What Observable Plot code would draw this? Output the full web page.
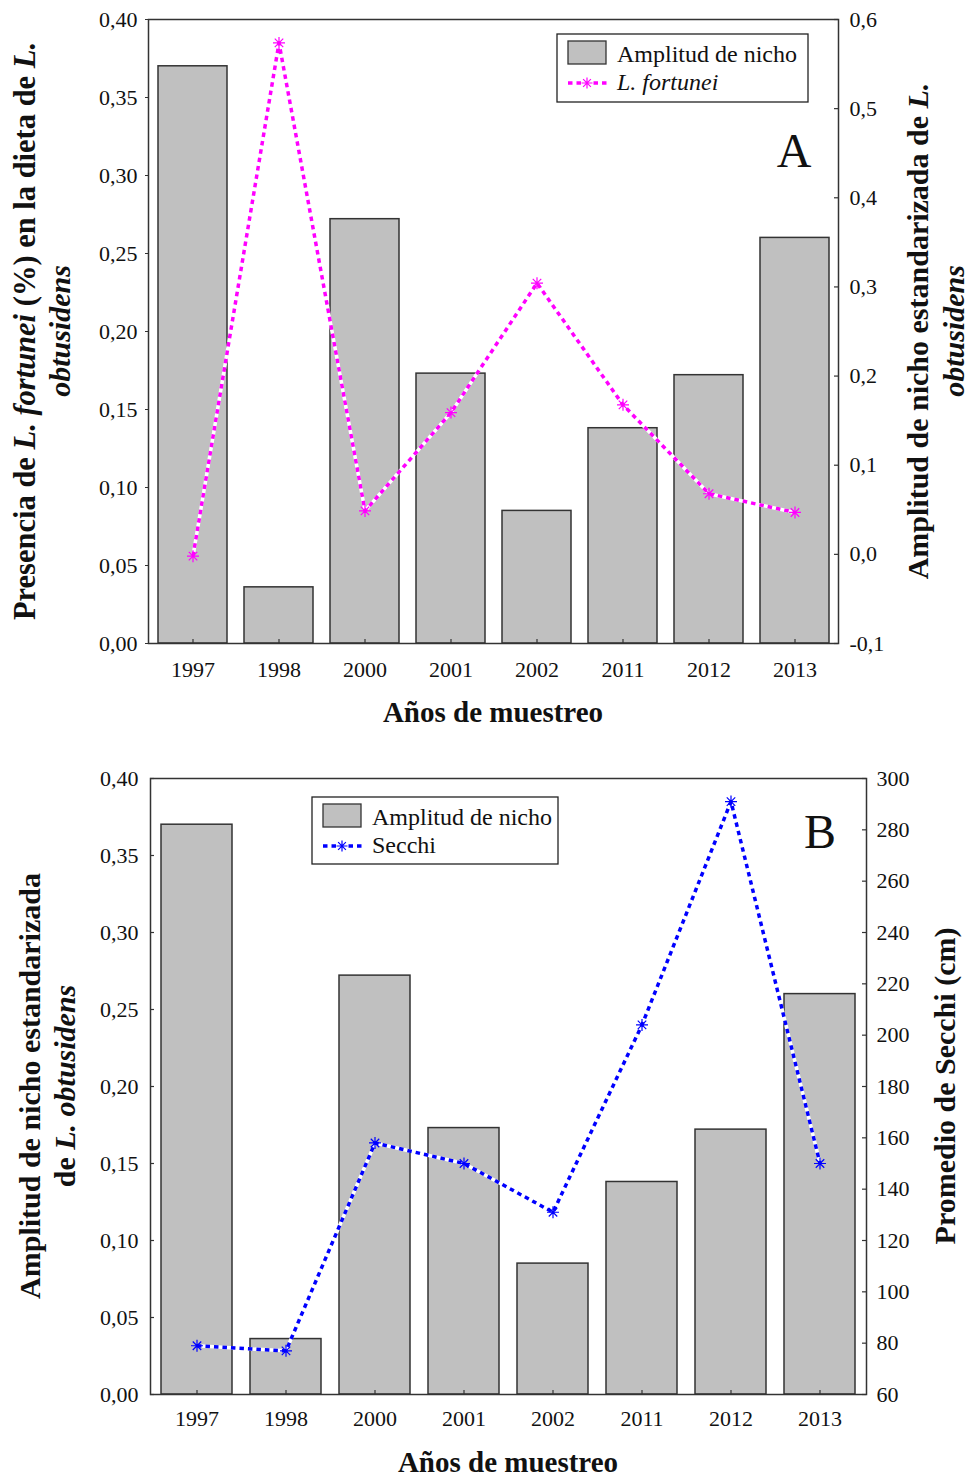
<!DOCTYPE html>
<html><head><meta charset="utf-8">
<script src="https://cdn.jsdelivr.net/npm/d3@7"></script>
<script src="https://cdn.jsdelivr.net/npm/@observablehq/plot@0.6"></script>
<style>
body{margin:0;background:#fff;}
#chart{width:970px;}
#chart svg{display:block;}
</style></head><body><div id="chart"></div>
<script>
// ---- data ----
const years = ["1997","1998","2000","2001","2002","2011","2012","2013"];
const amplitud = [0.370,0.036,0.272,0.173,0.085,0.138,0.172,0.260];
const fortunei = [0.056,0.385,0.085,0.148,0.231,0.153,0.096,0.084];
const secchi = [79,77,158,150,131,204,291,150];
const leftTicks = [0,0.05,0.10,0.15,0.20,0.25,0.30,0.35,0.40];
const rightTicksA = [-0.1,0,0.1,0.2,0.3,0.4,0.5,0.6];
const rightTicksB = [60,80,100,120,140,160,180,200,220,240,260,280,300];

const rows = years.map((y,i)=>({year:y, amp:amplitud[i], fort:fortunei[i], secchi:secchi[i]}));
const SERIF = "'Liberation Serif','Times New Roman',serif";
const fmtLeft = d => d.toFixed(2).replace(".", ",");
const aToLeft = v => (v + 0.1) * 0.4 / 0.7;
const aFromLeft = d => { const v = Math.round((d * 0.7 / 0.4 - 0.1) * 10) / 10; return v.toFixed(1).replace(".", ","); };
const bToLeft = v => (v - 60) / 240 * 0.4;
const bFromLeft = d => String(Math.round(60 + d / 0.4 * 240));

const asterisk = {draw(ctx, size){
  const r = Math.sqrt(size/Math.PI), d = r*Math.SQRT1_2;
  ctx.moveTo(-r,0);ctx.lineTo(r,0);ctx.moveTo(0,-r);ctx.lineTo(0,r);
  ctx.moveTo(-d,-d);ctx.lineTo(d,d);ctx.moveTo(-d,d);ctx.lineTo(d,-d);
}};

function panel(o){
  const plotW = o.width - o.marginLeft - o.marginRight;
  const plotH = o.height - o.marginTop - o.marginBottom;
  const marks = [
    Plot.barY(rows,{x:"year", y:"amp", fill:"#c0c0c0", stroke:"#333", strokeWidth:1.5}),
    Plot.line(rows,{x:"year", y:o.lineY, stroke:"white", strokeWidth:3.5}),
    Plot.line(rows,{x:"year", y:o.lineY, stroke:o.color, strokeWidth:3.5, strokeDasharray:"4.5,4", strokeLinecap:"butt"}),
    Plot.dot(rows,{x:"year", y:o.lineY, symbol:asterisk, r:6, stroke:o.color, fill:"none", strokeWidth:1.2}),
    Plot.axisX({tickSize:0, tickPadding:o.xPad, label:null, fontSize:22, fill:"#111"}),
    Plot.tickX(years,{x:d=>d, insetTop:plotH-4, stroke:"#333", strokeWidth:1.2}),
    Plot.axisY(leftTicks,{anchor:"left", tickSize:o.leftOut?3:0, tickPadding:o.leftOut?8:12, tickFormat:fmtLeft, label:null, fontSize:22, fill:"#111", stroke:"#333"}),
    Plot.axisY(o.rightTicks.map(o.toLeft),{anchor:"right", tickSize:0, tickPadding:o.rightPad, tickFormat:o.fromLeft, label:null, fontSize:22, fill:"#111"}),
    Plot.tickY(o.rightTicks.map(o.toLeft),{y:d=>d, insetLeft:plotW-4, stroke:"#333", strokeWidth:1.2}),
    Plot.frame({stroke:"#333", strokeWidth:1.5})
  ];
  if(!o.leftOut) marks.push(Plot.tickY(leftTicks,{y:d=>d, insetRight:plotW-4, stroke:"#333", strokeWidth:1.2}));
  return Plot.plot({
    width:o.width, height:o.height,
    marginLeft:o.marginLeft, marginRight:o.marginRight, marginTop:o.marginTop, marginBottom:o.marginBottom,
    style:{fontFamily:SERIF, fontSize:"22px", color:"#111", background:"white", overflow:"visible"},
    x:{type:"band", domain:years, paddingInner:0.2, paddingOuter:0.1},
    y:{domain:[0,0.4]},
    marks
  });
}

function vtitle(svg, baselineX, cy, parts, size){
  const t = svg.append("text")
    .attr("transform", `translate(${baselineX},${cy}) rotate(-90)`)
    .attr("text-anchor","middle").attr("font-family",SERIF).attr("font-size",size)
    .attr("font-weight","bold").attr("fill","#111");
  parts.forEach(([s,it]) => t.append("tspan").attr("font-style", it?"italic":"normal").text(s));
}
function htitle(svg, cx, by, txt, size){
  svg.append("text").attr("x",cx).attr("y",by).attr("text-anchor","middle")
    .attr("font-family",SERIF).attr("font-size",size).attr("font-weight","bold").attr("fill","#111").text(txt);
}
function legend(svg, L, color, label2, italic2){
  svg.append("rect").attr("x",L.x).attr("y",L.y).attr("width",L.w).attr("height",L.h)
    .attr("fill","white").attr("stroke","#222").attr("stroke-width",1.3);
  svg.append("rect").attr("x",L.x+11).attr("y",L.y+7).attr("width",38).attr("height",23)
    .attr("fill","#c0c0c0").attr("stroke","#333").attr("stroke-width",1.3);
  const ly = L.y+49;
  svg.append("line").attr("x1",L.x+11).attr("x2",L.x+50).attr("y1",ly).attr("y2",ly)
    .attr("stroke",color).attr("stroke-width",3.5).attr("stroke-dasharray","4.5,4");
  const cx = L.x+30, r=5.5, d=r*Math.SQRT1_2;
  svg.append("rect").attr("x",cx-6).attr("y",ly-6).attr("width",12).attr("height",12).attr("fill","white");
  svg.append("path").attr("d",`M${cx-r},${ly}H${cx+r}M${cx},${ly-r}V${ly+r}M${cx-d},${ly-d}L${cx+d},${ly+d}M${cx-d},${ly+d}L${cx+d},${ly-d}`)
    .attr("stroke",color).attr("stroke-width",1.2).attr("fill","none");
  svg.append("text").attr("x",L.x+60).attr("y",L.y+28).attr("text-anchor","start").attr("font-family",SERIF).attr("font-size",24).attr("fill","#111").text("Amplitud de nicho");
  svg.append("text").attr("x",L.x+60).attr("y",L.y+56).attr("text-anchor","start").attr("font-family",SERIF).attr("font-size",24).attr("fill","#111")
    .attr("font-style", italic2?"italic":"normal").text(label2);
}

const root = document.getElementById("chart");

// Panel A
const A = panel({width:970, height:740, marginLeft:148, marginRight:132, marginTop:19, marginBottom:97,
  lineY:"fort", color:"#ff00ff", rightTicks:rightTicksA, toLeft:aToLeft, fromLeft:aFromLeft,
  leftOut:true, xPad:18, rightPad:11});
root.appendChild(A);
const sa = d3.select(A);
vtitle(sa, 35, 331, [["Presencia de ",0],["L. fortunei",1],[" (%) en la dieta de ",0],["L.",1]], 30.5);
vtitle(sa, 70, 331, [["obtusidens",1]], 30);
vtitle(sa, 928, 331, [["Amplitud de nicho estandarizada de ",0],["L.",1]], 30);
vtitle(sa, 964, 331, [["obtusidens",1]], 30);
htitle(sa, 493, 722, "Años de muestreo", 29);
legend(sa, {x:557, y:34, w:251, h:68}, "#ff00ff", "L. fortunei", true);
sa.append("text").attr("x",794).attr("y",167).attr("text-anchor","middle").attr("font-family",SERIF).attr("font-size",48).attr("fill","#111").text("A");

// Panel B
const B = panel({width:970, height:736, marginLeft:150, marginRight:104, marginTop:38, marginBottom:82,
  lineY: d => bToLeft(d.secchi), color:"#0000ff", rightTicks:rightTicksB, toLeft:bToLeft, fromLeft:bFromLeft,
  leftOut:false, xPad:16, rightPad:10});
root.appendChild(B);
const sb = d3.select(B);
vtitle(sb, 40, 346, [["Amplitud de nicho estandarizada",0]], 30);
vtitle(sb, 75, 346, [["de ",0],["L. obtusidens",1]], 30);
vtitle(sb, 955, 346, [["Promedio de Secchi (cm)",0]], 30);
htitle(sb, 508, 732, "Años de muestreo", 29);
legend(sb, {x:312, y:57, w:246, h:67}, "#0000ff", "Secchi", false);
sb.append("text").attr("x",820).attr("y",108).attr("text-anchor","middle").attr("font-family",SERIF).attr("font-size",48).attr("fill","#111").text("B");
</script></body></html>
